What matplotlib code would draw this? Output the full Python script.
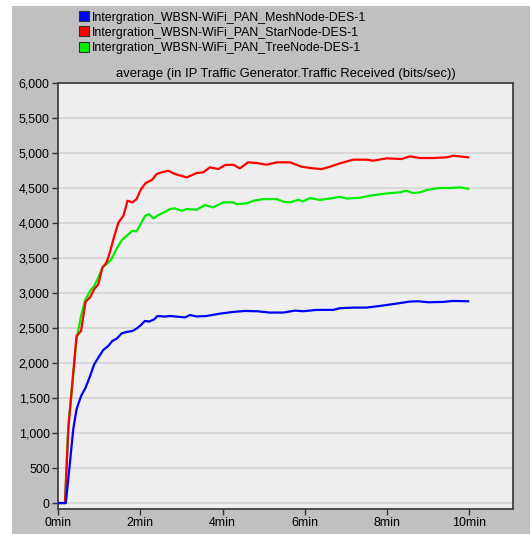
import numpy as np
import matplotlib
matplotlib.use("Agg")
import matplotlib.pyplot as plt
from matplotlib.patches import Rectangle
from matplotlib.lines import Line2D
from matplotlib.ticker import FuncFormatter, MultipleLocator

plt.rcParams['font.family'] = ['Liberation Sans', 'DejaVu Sans']

# Data (time in minutes, traffic received in bits/sec)
labels = ["Intergration_WBSN-WiFi_PAN_MeshNode-DES-1",
          "Intergration_WBSN-WiFi_PAN_StarNode-DES-1",
          "Intergration_WBSN-WiFi_PAN_TreeNode-DES-1"]

mesh_t = [0, 0.19, 0.29, 0.37, 0.45, 0.56, 0.67, 0.78, 0.88, 0.98, 1.10, 1.22, 1.32, 1.43,
          1.55, 1.67, 1.81, 1.91, 2.02, 2.11, 2.22, 2.34, 2.42, 2.60, 2.72, 3.09, 3.21,
          3.37, 3.61, 3.94, 4.26, 4.54, 4.83, 5.15, 5.48, 5.76, 5.96, 6.29, 6.69, 6.85,
          7.18, 7.50, 7.83, 8.23, 8.55, 8.76, 9.00, 9.36, 9.61, 9.97]
mesh_v = [0, 0, 575, 1051, 1338, 1528, 1648, 1814, 1981, 2077, 2186, 2243, 2315, 2349,
          2425, 2444, 2458, 2492, 2544, 2601, 2592, 2625, 2672, 2663, 2672, 2652, 2686,
          2665, 2672, 2706, 2730, 2744, 2740, 2721, 2721, 2749, 2740, 2759, 2759, 2783,
          2792, 2792, 2816, 2849, 2878, 2882, 2868, 2873, 2887, 2882]

star_t = [0, 0.17, 0.25, 0.45, 0.56, 0.67, 0.78, 0.88, 0.98, 1.08, 1.18, 1.26, 1.37,
          1.47, 1.59, 1.69, 1.81, 1.91, 2.02, 2.13, 2.28, 2.40, 2.52, 2.68, 2.84, 3.13,
          3.37, 3.53, 3.69, 3.90, 4.06, 4.26, 4.42, 4.62, 4.83, 5.07, 5.32, 5.64, 5.92,
          6.20, 6.41, 6.61, 6.85, 7.18, 7.50, 7.66, 7.99, 8.35, 8.55, 8.80, 9.12, 9.45,
          9.61, 9.97]
star_v = [0, 0, 1051, 2386, 2458, 2873, 2940, 3054, 3126, 3365, 3436, 3579, 3817,
          4008, 4103, 4318, 4294, 4342, 4485, 4571, 4614, 4700, 4724, 4747, 4700, 4652,
          4714, 4724, 4795, 4771, 4828, 4833, 4781, 4867, 4857, 4833, 4867, 4867, 4804,
          4781, 4771, 4804, 4852, 4905, 4905, 4890, 4924, 4914, 4952, 4928, 4928, 4938,
          4962, 4938]

tree_t = [0, 0.17, 0.25, 0.45, 0.56, 0.66, 0.78, 0.88, 0.98, 1.08, 1.18, 1.30, 1.42,
          1.55, 1.67, 1.81, 1.91, 2.02, 2.12, 2.21, 2.32, 2.44, 2.60, 2.72, 2.84, 3.01,
          3.13, 3.37, 3.57, 3.77, 4.02, 4.26, 4.34, 4.59, 4.75, 4.99, 5.32, 5.48, 5.64,
          5.84, 5.96, 6.12, 6.37, 6.61, 6.69, 6.85, 7.02, 7.34, 7.58, 7.75, 7.99, 8.31,
          8.46, 8.63, 8.80, 8.96, 9.24, 9.53, 9.77, 9.97]
tree_v = [0, 0, 1100, 2330, 2672, 2900, 3030, 3101, 3221, 3365, 3412, 3484, 3627,
          3755, 3817, 3889, 3880, 3999, 4103, 4127, 4066, 4113, 4160, 4199, 4209, 4175,
          4199, 4190, 4256, 4223, 4295, 4295, 4270, 4280, 4318, 4342, 4342, 4304, 4295,
          4330, 4310, 4356, 4330, 4350, 4356, 4375, 4350, 4360, 4390, 4404, 4423, 4438,
          4461, 4428, 4438, 4471, 4500, 4500, 4509, 4490]

colors = ['#0000ff', '#ff0000', '#00ee00']

fig = plt.figure(figsize=(5.31, 5.34), dpi=100, facecolor='white')
# grey panel behind everything
fig.patches.append(Rectangle((12 / 531, 0), 518 / 531, 528 / 534, transform=fig.transFigure,
                             facecolor='#c0c0c0', edgecolor='none', zorder=-10))

ax = fig.add_axes([58 / 531, 25 / 534, 455 / 531, 426 / 534])
ax.set_facecolor('#eeeeee')

ax.plot(tree_t, tree_v, color=colors[2], lw=1.6, zorder=3)
ax.plot(star_t, star_v, color=colors[1], lw=1.6, zorder=4)
ax.plot(mesh_t, mesh_v, color=colors[0], lw=1.6, zorder=5)

ax.set_xlim(0, 11.06)
ax.set_ylim(-85, 6000)
ax.xaxis.set_major_locator(MultipleLocator(2))
ax.yaxis.set_major_locator(MultipleLocator(500))
ax.xaxis.set_major_formatter(FuncFormatter(lambda v, p: f"{int(v)}min"))
ax.yaxis.set_major_formatter(FuncFormatter(lambda v, p: f"{int(v):,}"))
ax.grid(axis='y', color='#d4d4d4', lw=1.2)
ax.set_axisbelow(True)
ax.tick_params(labelsize=8.9, length=4, width=1, color='#333333', pad=2)
for s in ax.spines.values():
    s.set_color('#404040')
    s.set_linewidth(1.3)

ax.set_title("average (in IP Traffic Generator.Traffic Received (bits/sec))",
             fontsize=9.4, pad=4)

handles = [Line2D([], [], linestyle='none', marker='s', markersize=7,
                  markerfacecolor=c, markeredgecolor='#333333', markeredgewidth=0.8)
           for c in colors]
fig.legend(handles, labels, loc='upper left', bbox_to_anchor=(70 / 531, 1 - 3 / 534),
           frameon=False, fontsize=8.9, handlelength=0.8, handletextpad=0.25,
           labelspacing=0.25, borderpad=0.2)

fig.savefig('out.png', dpi=100, facecolor='white')
